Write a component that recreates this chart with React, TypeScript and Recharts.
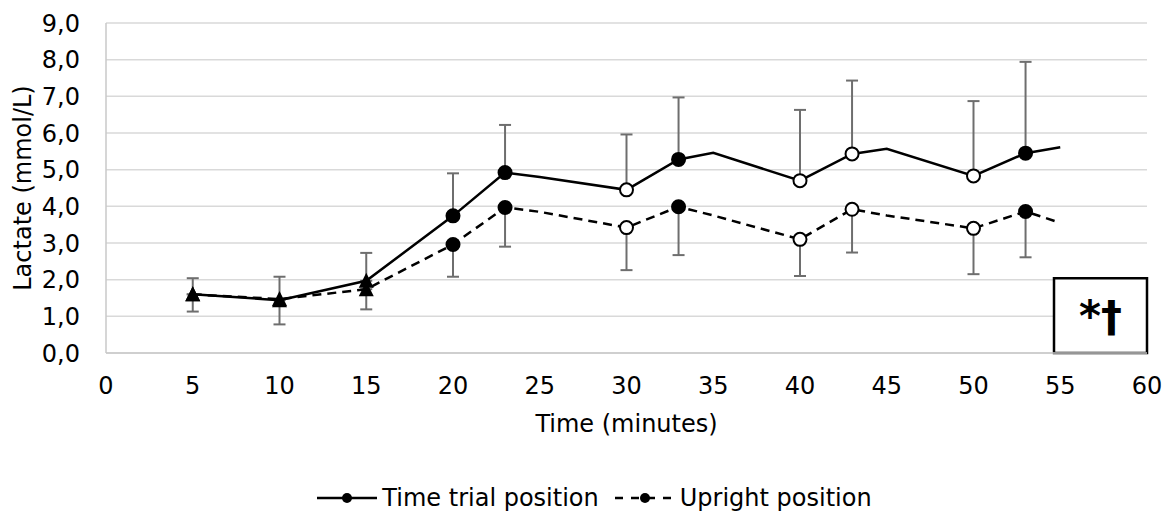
import * as React from 'react'
import {
  ComposedChart,
  CartesianGrid,
  XAxis,
  YAxis,
  Line,
  ErrorBar,
  Legend,
  ReferenceArea,
} from 'recharts'

// sampling times (minutes)
const times = [5, 10, 15, 20, 23, 25, 30, 33, 35, 40, 43, 45, 50, 53, 55]
// lactate, time trial position (solid)
const trial = [1.6, 1.44, 1.97, 3.74, 4.92, 4.8, 4.45, 5.28, 5.46, 4.7, 5.43, 5.57, 4.83, 5.45, 5.61]
// lactate, upright position (dashed)
const upright = [1.6, 1.47, 1.74, 2.96, 3.97, 3.85, 3.42, 3.99, 3.75, 3.1, 3.92, 3.75, 3.4, 3.86, 3.55]
// SD (upper bar on trial, lower bar on upright), null = no bar
const trialSd = [0.44, 0.64, 0.76, 1.16, 1.3, null, 1.51, 1.69, null, 1.93, 2.0, null, 2.04, 2.49, null]
const uprightSd = [0.47, 0.69, 0.55, 0.88, 1.07, null, 1.16, 1.32, null, 1.0, 1.18, null, 1.25, 1.25, null]
// marker per point: tri / fill / open / none
const markers = ['tri', 'tri', 'tri', 'fill', 'fill', 'none', 'open', 'fill', 'none', 'open', 'open', 'none', 'open', 'fill', 'none']

const xTicks = [0, 5, 10, 15, 20, 25, 30, 35, 40, 45, 50, 55, 60]
const yTicks = [0, 1, 2, 3, 4, 5, 6, 7, 8, 9]

const rows = times.map((t, i) => ({
  t,
  trial: trial[i],
  upright: upright[i],
  trialErr: trialSd[i] == null ? null : [0, trialSd[i]],
  uprightErr: uprightSd[i] == null ? null : [uprightSd[i], 0],
}))

const FONT = '"DejaVu Sans", Verdana, sans-serif'
const FS = 24

const renderMarker = (p: any) => {
  const { cx, cy, index } = p
  const kind = markers[index]
  const key = `m-${p.dataKey}-${index}`
  if (kind === 'tri') {
    return (
      <polygon
        key={key}
        points={`${cx},${cy - 8} ${cx - 7.5},${cy + 7} ${cx + 7.5},${cy + 7}`}
        fill="#000"
      />
    )
  }
  if (kind === 'fill' || kind === 'open') {
    return (
      <circle
        key={key}
        cx={cx}
        cy={cy}
        r={6.5}
        fill={kind === 'fill' ? '#000' : '#fff'}
        stroke="#000"
        strokeWidth={2}
      />
    )
  }
  return <g key={key} />
}

const LegendIcon = ({ dashed }: { dashed: boolean }) => (
  <svg width={64} height={20} style={{ display: 'block' }}>
    <line x1={2} y1={10} x2={62} y2={10} stroke="#000" strokeWidth={2.5} strokeDasharray={dashed ? '8 8' : undefined} />
    <circle cx={32} cy={10} r={5} fill="#000" />
  </svg>
)

const renderLegend = () => (
  <div
    style={{
      height: 36,
      display: 'flex',
      alignItems: 'center',
      justifyContent: 'center',
      paddingLeft: 40,
      fontFamily: FONT,
      fontSize: FS,
      color: '#000',
    }}
  >
    <LegendIcon dashed={false} />
    <span style={{ marginLeft: 3, marginRight: 14 }}>Time trial position</span>
    <LegendIcon dashed={true} />
    <span style={{ marginLeft: 3 }}>Upright position</span>
  </div>
)

const comma = (v: number) => v.toFixed(1).replace('.', ',')

export default function App() {
  return (
    <div style={{ position: 'absolute', left: 0, top: 0, background: '#fff' }}>
      <ComposedChart
        width={1170}
        height={516}
        data={rows}
        margin={{ top: 23, right: 23, bottom: 0, left: 0 }}
      >
        <CartesianGrid vertical={false} stroke="#d9d9d9" strokeWidth={1.5} />
        <XAxis
          dataKey="t"
          type="number"
          domain={[0, 60]}
          ticks={xTicks}
          interval={0}
          height={127}
          tickLine={false}
          tickSize={0}
          tickMargin={24}
          axisLine={{ stroke: '#c8c8c8', strokeWidth: 1.5 }}
          tick={{ fill: '#000', fontSize: FS, fontFamily: FONT }}
          label={{ value: 'Time (minutes)', position: 'insideBottom', offset: 48, fill: '#000', fontSize: FS, fontFamily: FONT }}
        />
        <YAxis
          type="number"
          domain={[0, 9]}
          ticks={yTicks}
          interval={0}
          width={106}
          tickLine={false}
          tickSize={0}
          tickMargin={26}
          tickFormatter={comma}
          axisLine={{ stroke: '#c8c8c8', strokeWidth: 1.5 }}
          tick={{ fill: '#000', fontSize: FS, fontFamily: FONT }}
          label={{
            value: 'Lactate (mmol/L)',
            angle: -90,
            position: 'insideLeft',
            offset: 22,
            fill: '#000',
            fontSize: FS,
            fontFamily: FONT,
            style: { textAnchor: 'middle' },
          }}
        />
        <Legend verticalAlign="bottom" content={renderLegend} wrapperStyle={{ margin: 0, padding: 0 }} />
        <ReferenceArea
          x1={54.64}
          x2={60}
          y1={0}
          y2={2.04}
          fill="#fff"
          fillOpacity={1}
          stroke="#000"
          strokeWidth={2.5}
          ifOverflow="visible"
          label={{ value: '*†', position: 'center', fill: '#000', fontSize: 42, fontWeight: 'bold', fontFamily: FONT }}
        />
        <Line
          dataKey="upright"
          name="Upright position"
          stroke="#000"
          strokeWidth={2.5}
          strokeDasharray="9 6"
          dot={renderMarker}
          activeDot={false}
          isAnimationActive={false}
        >
          <ErrorBar dataKey="uprightErr" direction="y" width={6} stroke="#6e6e6e" strokeWidth={2} />
        </Line>
        <Line
          dataKey="trial"
          name="Time trial position"
          stroke="#000"
          strokeWidth={2.5}
          dot={renderMarker}
          activeDot={false}
          isAnimationActive={false}
        >
          <ErrorBar dataKey="trialErr" direction="y" width={6} stroke="#6e6e6e" strokeWidth={2} />
        </Line>
      </ComposedChart>
    </div>
  )
}
